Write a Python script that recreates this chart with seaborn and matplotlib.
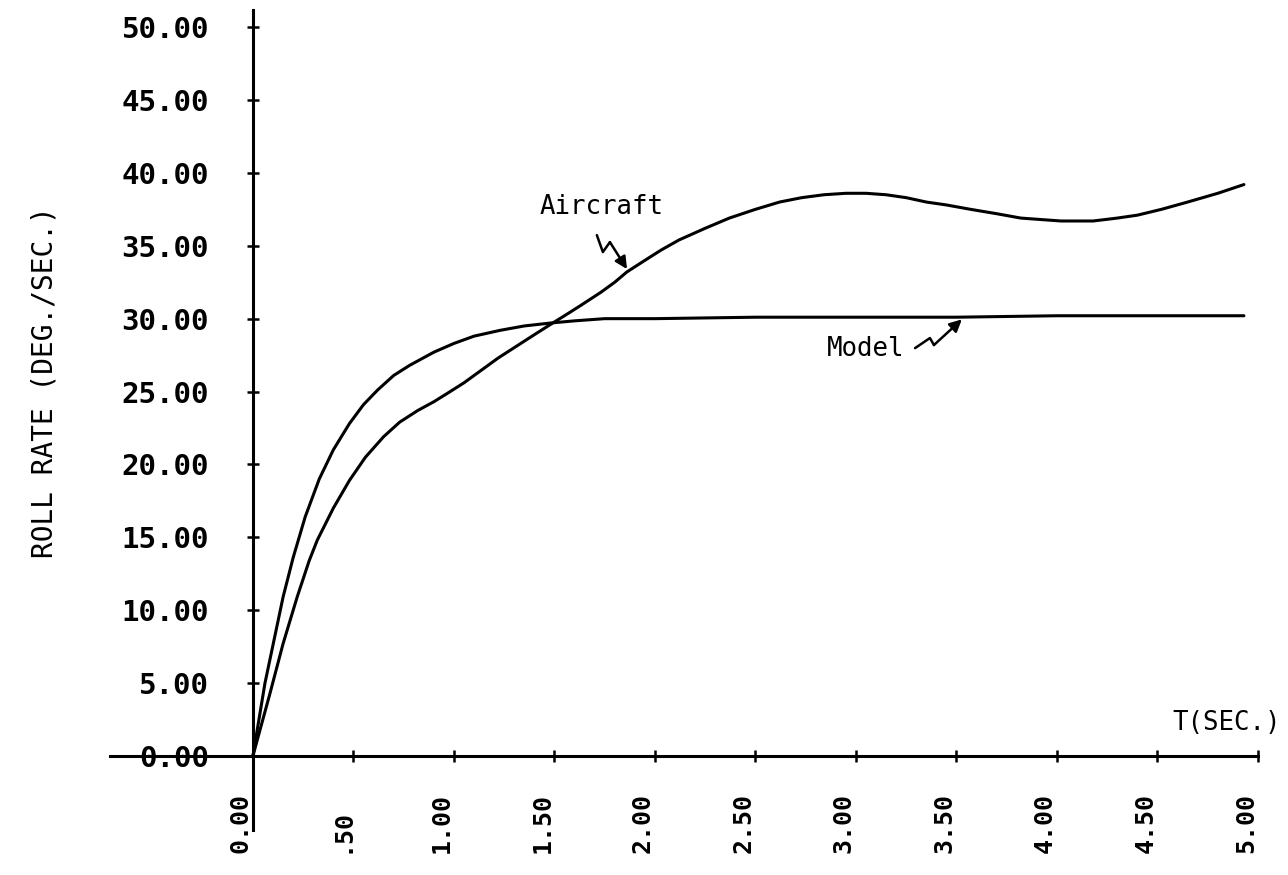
import matplotlib
matplotlib.use("Agg")
import matplotlib.pyplot as plt
import seaborn as sns
import pandas as pd

# Step response: time (s) and roll rate (deg/s)
t_model = [0.0, 0.06, 0.15, 0.20, 0.26, 0.33, 0.40, 0.48, 0.55, 0.62, 0.70,
           0.78, 0.90, 1.00, 1.10, 1.23, 1.35, 1.48, 1.60, 1.75, 2.00, 2.50,
           3.00, 3.50, 4.00, 4.50, 4.93]
model = [0.0, 5.0, 10.9, 13.6, 16.4, 19.0, 21.0, 22.8, 24.1, 25.1, 26.1,
         26.8, 27.7, 28.3, 28.8, 29.2, 29.5, 29.7, 29.85, 30.0, 30.0, 30.1,
         30.1, 30.1, 30.2, 30.2, 30.2]

t_aircraft = [0.0, 0.085, 0.15, 0.22, 0.28, 0.32, 0.40, 0.48, 0.56, 0.65, 0.73,
              0.82, 0.90, 0.97, 1.05, 1.14, 1.22, 1.31, 1.40, 1.48, 1.55, 1.63,
              1.73, 1.80, 1.86, 1.95, 2.03, 2.12, 2.25, 2.37, 2.50, 2.62, 2.73,
              2.84, 2.95, 3.05, 3.15, 3.25, 3.35, 3.45, 3.57, 3.70, 3.82, 3.92,
              4.02, 4.10, 4.18, 4.30, 4.40, 4.52, 4.65, 4.80, 4.93]
aircraft = [0.0, 4.3, 7.7, 10.9, 13.4, 14.8, 17.0, 18.9, 20.5, 21.9, 22.9,
            23.7, 24.3, 24.9, 25.6, 26.5, 27.3, 28.1, 28.9, 29.6, 30.2, 30.9,
            31.8, 32.5, 33.2, 34.0, 34.7, 35.4, 36.2, 36.9, 37.5, 38.0, 38.3,
            38.5, 38.6, 38.6, 38.5, 38.3, 38.0, 37.8, 37.5, 37.2, 36.9, 36.8,
            36.7, 36.7, 36.7, 36.9, 37.1, 37.5, 38.0, 38.6, 39.2]

x_ticks = [0.0, 0.5, 1.0, 1.5, 2.0, 2.5, 3.0, 3.5, 4.0, 4.5, 5.0]
x_tick_labels = ["0.00", ".50", "1.00", "1.50", "2.00", "2.50", "3.00",
                 "3.50", "4.00", "4.50", "5.00"]
y_ticks = [0, 5, 10, 15, 20, 25, 30, 35, 40, 45, 50]
y_tick_labels = ["0.00", "5.00", "10.00", "15.00", "20.00", "25.00", "30.00",
                 "35.00", "40.00", "45.00", "50.00"]

sns.set_style("white")
plt.rcParams["font.family"] = ["DejaVu Sans Mono", "DejaVu Sans"]
plt.rcParams["text.color"] = "black"

fig = plt.figure(figsize=(12.88, 8.75), dpi=100)
ax = fig.add_axes([0.0854, 0.0514, 0.8913, 0.9371])

df_model = pd.DataFrame({"t": t_model, "p": model})
df_air = pd.DataFrame({"t": t_aircraft, "p": aircraft})
sns.lineplot(data=df_model, x="t", y="p", ax=ax, color="black",
             linewidth=2.2, estimator=None)
sns.lineplot(data=df_air, x="t", y="p", ax=ax, color="black",
             linewidth=2.2, estimator=None)

ax.set_xlim(-0.711, 5.0)
ax.set_ylim(-5.08, 51.17)
ax.set_xlabel("")
ax.set_ylabel("")

# Axes cross at the origin
for side in ["top", "right"]:
    ax.spines[side].set_visible(False)
ax.spines["left"].set_position(("data", 0))
ax.spines["bottom"].set_position(("data", 0))
for side in ["left", "bottom"]:
    ax.spines[side].set_linewidth(2.2)
    ax.spines[side].set_color("black")

ax.set_xticks(x_ticks)
ax.set_xticklabels(x_tick_labels, rotation=90, ha="right", va="bottom",
                   fontsize=18, fontweight="bold")
ax.set_yticks(y_ticks)
ax.set_yticklabels(y_tick_labels, fontsize=21, fontweight="bold")
ax.tick_params(axis="both", bottom=True, left=True, direction="inout",
               length=9, width=1.8, color="black", labelcolor="black")
ax.tick_params(axis="x", pad=65)
ax.tick_params(axis="y", pad=27)

# Curve labels with squiggle pointers
ax.text(1.428, 37.65, "Aircraft", fontsize=18.5, ha="left", va="center",
        color="black")
ax.text(2.856, 27.9, "Model", fontsize=18.5, ha="left", va="center",
        color="black")

air_sq = [(1.711, 35.73), (1.741, 34.57), (1.776, 35.25)]
air_tip = (1.861, 33.4)
ax.plot([p[0] for p in air_sq], [p[1] for p in air_sq], color="black", lw=1.8)
ax.annotate("", xy=air_tip, xytext=air_sq[-1],
            arrowprops=dict(arrowstyle="-|>", color="black", lw=1.8,
                            mutation_scale=18, shrinkA=0, shrinkB=0))

mod_sq = [(3.294, 27.98), (3.368, 28.67), (3.388, 28.19)]
mod_tip = (3.527, 29.95)
ax.plot([p[0] for p in mod_sq], [p[1] for p in mod_sq], color="black", lw=1.8)
ax.annotate("", xy=mod_tip, xytext=mod_sq[-1],
            arrowprops=dict(arrowstyle="-|>", color="black", lw=1.8,
                            mutation_scale=18, shrinkA=0, shrinkB=0))

# Axis titles
ax.text(4.572, 2.26, "T(SEC.)", fontsize=18.5, ha="left", va="center",
        color="black")
fig.text(45 / 1288, 1 - 382 / 875, "ROLL RATE (DEG./SEC.)", rotation=90,
         fontsize=20, ha="center", va="center", color="black")

fig.savefig("out.png", dpi=100, facecolor="white")
